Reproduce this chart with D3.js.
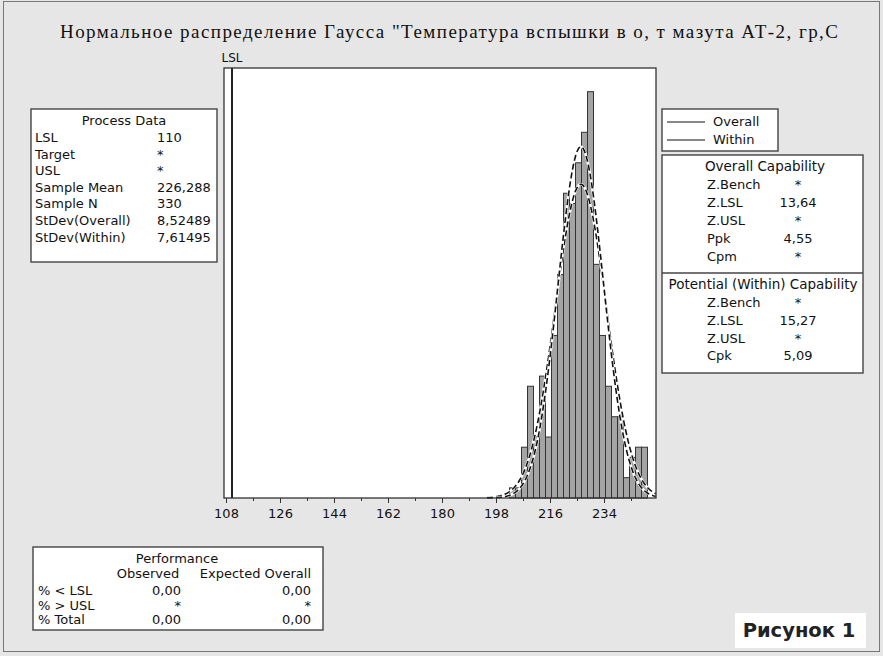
<!DOCTYPE html>
<html><head><meta charset="utf-8">
<script src="https://cdn.jsdelivr.net/npm/d3@7"></script>
<style>body{margin:0;background:#e6e6e6;} svg{display:block}</style>
</head><body><svg id="c" width="883" height="656"></svg>
<script>
// ---------- data ----------
const binMids   = [203.5,205.5,207.5,209.5,211.5,213.5,215.5,217.5,219.5,221.5,223.5,225.5,227.5,229.5,231.5,233.5,235.5,237.5,239.5,241.5,243.5,245.5,247.5];
const binCounts = [1,1,5,11,6,12,6,16,22,30,29,33,36,40,23,16,11,8,8,2,4,5,5];
const binWidth = 2;
const xTicks = [108,126,144,162,180,198,216,234];
const xMinorTicks = [117,135,153,171,189,207,225,243];
const lsl = 110;
const sampleMean = 226.288, sampleN = 330, sdOverall = 8.52489, sdWithin = 7.61495;
const titleText = 'Нормальное распределение Гаусса "Температура вспышки в  о, т мазута АТ-2, гр,С';
const processLabels = ["LSL","Target","USL","Sample Mean","Sample N","StDev(Overall)","StDev(Within)"];
const processValues = ["110","*","*","226,288","330","8,52489","7,61495"];
const legendNames = ["Overall","Within"];
const overallLabels = ["Z.Bench","Z.LSL","Z.USL","Ppk","Cpm"];
const overallValues = ["*","13,64","*","4,55","*"];
const withinLabels = ["Z.Bench","Z.LSL","Z.USL","Cpk"];
const withinValues = ["*","15,27","*","5,09"];
const perfCols = ["Observed","Expected Overall"];
const perfRows = ["% < LSL","% > USL","% Total"];
const perfObserved = ["0,00","*","0,00"];
const perfExpected = ["0,00","*","0,00"];
const figLabel = "Рисунок 1";

// ---------- drawing ----------
const svg = d3.select("#c");
const F = "'DejaVu Sans', Verdana, sans-serif";
const plot = {l:224, r:656, t:68, b:498};

svg.append("rect").attr("x",3.5).attr("y",1.5).attr("width",876).attr("height",650)
  .attr("fill","#e6e6e6").attr("stroke","#777").attr("stroke-width",1);

const x = d3.scaleLinear().domain([107.333, 251.333]).range([plot.l, plot.r]);
const y = d3.scaleLinear().domain([0, 42.33]).range([plot.b, plot.t]);

svg.append("rect").attr("x",plot.l).attr("y",plot.t).attr("width",plot.r-plot.l).attr("height",plot.b-plot.t)
  .attr("fill","#fff");

// bars
svg.append("g").selectAll("rect").data(binMids).join("rect")
  .attr("x",(d)=>x(d-binWidth/2))
  .attr("width",(d)=>x(d+binWidth/2)-x(d-binWidth/2))
  .attr("y",(d,i)=>y(binCounts[i]))
  .attr("height",(d,i)=>y(0)-y(binCounts[i]))
  .attr("fill","#a4a4a4").attr("stroke","#333").attr("stroke-width",1);

// normal curves
function curve(sd){
  const pts = d3.range(195, 251.34, 0.25);
  return pts.map(v=>[v, sampleN*binWidth/(sd*Math.sqrt(2*Math.PI))*Math.exp(-0.5*Math.pow((v-sampleMean)/sd,2))]);
}
const line = d3.line().x(d=>x(d[0])).y(d=>y(d[1]));
[sdOverall, sdWithin].forEach(sd=>{
  svg.append("path").attr("d",line(curve(sd))).attr("fill","none").attr("stroke","#fff").attr("stroke-width",2.6);
  svg.append("path").attr("d",line(curve(sd))).attr("fill","none").attr("stroke","#111").attr("stroke-width",1.6)
    .attr("stroke-dasharray","6,3");
});

// LSL line
svg.append("line").attr("x1",x(lsl)).attr("x2",x(lsl)).attr("y1",plot.t).attr("y2",plot.b)
  .attr("stroke","#222").attr("stroke-width",2);
svg.append("text").attr("x",x(lsl)).attr("y",plot.t-6).attr("text-anchor","middle")
  .attr("font-family",F).attr("font-size",12).attr("fill","#111").text("LSL");

// frame
svg.append("rect").attr("x",plot.l).attr("y",plot.t).attr("width",plot.r-plot.l).attr("height",plot.b-plot.t)
  .attr("fill","none").attr("stroke","#333").attr("stroke-width",1.3);

// axis
const ax = svg.append("g").attr("transform",`translate(0,${plot.b})`)
  .call(d3.axisBottom(x).tickValues(xTicks).tickSize(5).tickPadding(6).tickFormat(d3.format("d")));
ax.select(".domain").remove();
ax.selectAll("text").attr("font-family",F).attr("font-size",13).attr("fill","#111");
ax.selectAll("line").attr("stroke","#333");
const axm = svg.append("g").attr("transform",`translate(0,${plot.b})`)
  .call(d3.axisBottom(x).tickValues(xMinorTicks).tickSize(3).tickFormat(""));
axm.select(".domain").remove();
axm.selectAll("line").attr("stroke","#333");

// title
svg.append("text").attr("x",449).attr("y",38).attr("text-anchor","middle")
  .attr("font-family","'Liberation Serif','Times New Roman',serif").attr("font-size",19)
  .attr("textLength",778).attr("lengthAdjust","spacing")
  .attr("fill","#111").text(titleText);

function box(x0,y0,w,h){
  svg.append("rect").attr("x",x0).attr("y",y0).attr("width",w).attr("height",h)
    .attr("fill","#fff").attr("stroke","#444").attr("stroke-width",1.4);
}
function txt(x0,y0,s,anchor,size){
  svg.append("text").attr("x",x0).attr("y",y0).attr("text-anchor",anchor||"start")
    .attr("font-family",F).attr("font-size",size||13).attr("fill","#111").text(s);
}

// Process data
box(31,109,186,153);
txt(124,125,"Process Data","middle");
processLabels.forEach((s,i)=>{ txt(35,142+i*16.6,s); txt(157,142+i*16.6,processValues[i]); });

// legend
box(662,109,116,42);
legendNames.forEach((s,i)=>{
  svg.append("line").attr("x1",667).attr("x2",705).attr("y1",122+i*18).attr("y2",122+i*18).attr("stroke","#111").attr("stroke-width",1.2);
  txt(713,126+i*18,s);
});

// overall capability
box(662,155,201,218);
svg.append("line").attr("x1",662).attr("x2",863).attr("y1",273).attr("y2",273).attr("stroke","#444").attr("stroke-width",1.4);
txt(765,171,"Overall Capability","middle",13.5);
overallLabels.forEach((s,i)=>{ txt(707,189+i*18,s); txt(798,189+i*18,overallValues[i],"middle"); });
txt(763,289,"Potential (Within) Capability","middle",13.5);
withinLabels.forEach((s,i)=>{ txt(707,307+i*17.8,s); txt(798,307+i*17.8,withinValues[i],"middle"); });

// performance
box(33,547,290,83);
txt(177,563,"Performance","middle");
txt(148,578,perfCols[0],"middle");
txt(311,578,perfCols[1],"end");
perfRows.forEach((s,i)=>{
  txt(38,595+i*14.5,s);
  txt(181,595+i*14.5,perfObserved[i],"end");
  txt(311,595+i*14.5,perfExpected[i],"end");
});

// figure label
svg.append("rect").attr("x",735).attr("y",613).attr("width",131).attr("height",35).attr("fill","#fff");
svg.append("text").attr("x",799).attr("y",637).attr("text-anchor","middle")
  .attr("font-family",F).attr("font-weight","bold").attr("font-size",19.5).attr("fill","#222").text(figLabel);
</script></body></html>
